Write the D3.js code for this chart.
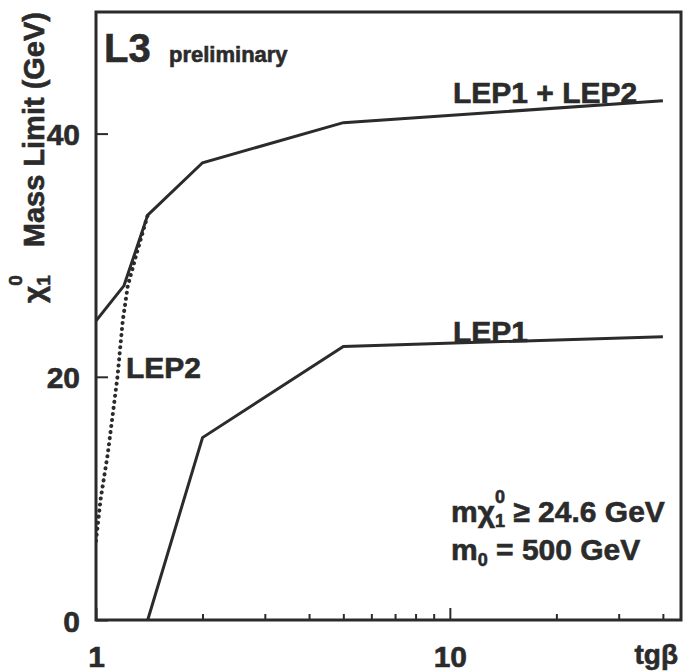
<!DOCTYPE html>
<html><head><meta charset="utf-8">
<script src="https://cdn.jsdelivr.net/npm/d3@7"></script>
<style>
html,body{margin:0;padding:0;background:#fff;}
svg{display:block;}
text{font-family:"Liberation Sans",Arial,Helvetica,sans-serif;font-weight:bold;fill:#2b2b2b;stroke:#2b2b2b;stroke-width:0.6px;}
</style></head>
<body>
<svg id="c" width="683" height="672"></svg>
<script>
// ---- data ----
const tgbComb = [1.0, 1.2, 1.4, 2, 5, 40];
const massComb = [24.6, 27.5, 33.3, 37.6, 40.9, 42.7];
const tgbLep1 = [1.4, 2, 5, 40];
const massLep1 = [0, 15.0, 22.5, 23.3];
const tgbLep2 = [1.0, 1.03, 1.08, 1.15, 1.19, 1.23, 1.31, 1.4];
const massLep2 = [6.5, 9.9, 13.7, 20.0, 24.6, 27.5, 30.4, 33.3];
const xMajorTicks = [1, 10];
const xMinorTicks = [2, 3, 4, 5, 6, 7, 8, 9, 20, 30, 40];
const yTicks = [0, 20, 40];
const xDomain = [1, 45];
const yDomain = [0, 50];

const col = "#2b2b2b";
const svg = d3.select("#c");
const m = {left: 96, top: 12, right: 2, bottom: 52};
const W = 683 - m.left - m.right, H = 672 - m.top - m.bottom;
const x = d3.scaleLog().domain(xDomain).range([0, W]);
const y = d3.scaleLinear().domain(yDomain).range([H, 0]);
const g = svg.append("g").attr("transform", `translate(${m.left},${m.top})`);

g.append("clipPath").attr("id", "clip").append("rect").attr("width", W).attr("height", H);

// lines
const line = d3.line().x(d => x(d[0])).y(d => y(d[1]));
const comb = tgbComb.map((t, i) => [t, massComb[i]]);
const l1 = tgbLep1.map((t, i) => [t, massLep1[i]]);
const l2 = tgbLep2.map((t, i) => [t, massLep2[i]]);
const lines = g.append("g").attr("clip-path", "url(#clip)");
lines.append("path").attr("d", line(l2)).attr("fill", "none").attr("stroke", col).attr("stroke-width", 4)
  .attr("stroke-dasharray", "0.1,6").attr("stroke-linecap", "round");
lines.append("path").attr("d", line(comb)).attr("fill", "none").attr("stroke", col).attr("stroke-width", 3);
lines.append("path").attr("d", line(l1)).attr("fill", "none").attr("stroke", col).attr("stroke-width", 3);

// axes (ticks inward)
const xAxisMaj = d3.axisBottom(x).tickValues(xMajorTicks).tickSize(-12).tickFormat(d3.format("d")).tickPadding(26);
const xAxisMin = d3.axisBottom(x).tickValues(xMinorTicks).tickSize(-6).tickFormat("");
const yAxis = d3.axisLeft(y).tickValues(yTicks).tickSize(-12).tickPadding(16);
const gx = g.append("g").attr("transform", `translate(0,${H})`).call(xAxisMaj);
const gxm = g.append("g").attr("transform", `translate(0,${H})`).call(xAxisMin);
const gy = g.append("g").call(yAxis);
[gx, gxm, gy].forEach(a => {
  a.select(".domain").remove();
  a.selectAll(".tick line").attr("stroke", col).attr("stroke-width", 2);
  a.selectAll(".tick text").attr("fill", col).attr("stroke", col).attr("stroke-width", 0.6).style("font-size", "30px")
    .style("font-family", '"Liberation Sans",Arial,sans-serif').style("font-weight", "bold");
});
gy.selectAll(".tick text").attr("dy", "0.37em");

// frame
g.append("rect").attr("width", W).attr("height", H).attr("fill", "none").attr("stroke", col).attr("stroke-width", 3);

// x title
svg.append("text").attr("x", 678).attr("y", 664).attr("text-anchor", "end").style("font-size", "28px").text("tgβ");

// y title
const yt = svg.append("g").attr("transform", "translate(44,0) rotate(-90)");
const chi = yt.append("text").attr("x", -303).attr("y", 0).style("font-size", "30px").text("χ");
const cw = chi.node().getComputedTextLength();
yt.append("text").attr("x", -303 + cw).attr("y", 6).style("font-size", "19px").text("1");
yt.append("text").attr("x", -303 + cw).attr("y", -22).style("font-size", "19px").text("0");
yt.append("text").attr("x", -12).attr("y", 0).attr("text-anchor", "end").style("font-size", "29px").text("Mass Limit (GeV)");

// L3 preliminary
svg.append("text").attr("x", 104).attr("y", 62).style("font-size", "40px").text("L3");
svg.append("text").attr("x", 169).attr("y", 62).style("font-size", "22px").text("preliminary");

// curve labels
svg.append("text").attr("x", 453).attr("y", 103).style("font-size", "30px").text("LEP1 + LEP2");
svg.append("text").attr("x", 453).attr("y", 342).style("font-size", "30px").text("LEP1");
svg.append("text").attr("x", 126).attr("y", 378).style("font-size", "30px").text("LEP2");

// annotation
const a1 = svg.append("text").attr("x", 451).attr("y", 522).style("font-size", "30px");
a1.append("tspan").text("mχ");
a1.append("tspan").attr("dy", 5).style("font-size", "18px").text("1");
a1.append("tspan").attr("dx", -10).attr("dy", -24).style("font-size", "18px").text("0");
a1.append("tspan").attr("dy", 19).text(" ≥ 24.6 GeV");
const a2 = svg.append("text").attr("x", 451).attr("y", 560).style("font-size", "30px");
a2.append("tspan").text("m");
a2.append("tspan").attr("dy", 6).style("font-size", "18px").text("0");
a2.append("tspan").attr("dy", -6).text(" = 500 GeV");
</script>
</body></html>
